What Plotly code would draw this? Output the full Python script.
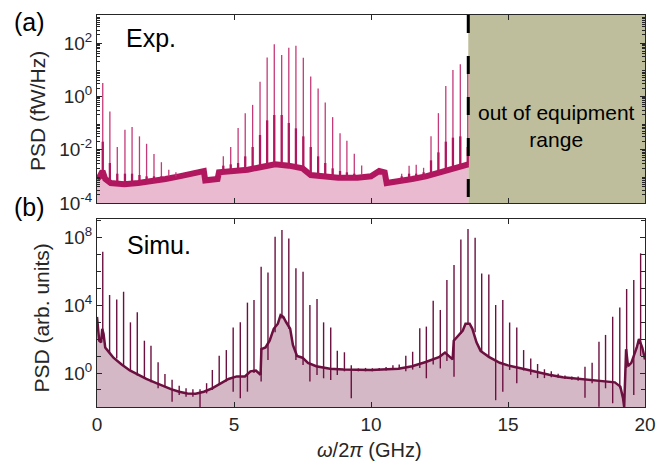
import plotly.graph_objects as go

# ---------------- (a) Experiment: PSD in fW/Hz (values stored as log10) ----------------
exp_base_f = [0.0, 0.1, 0.2, 0.3, 0.5, 1.0, 1.5, 2.0, 2.5, 3.0, 3.5, 3.9, 3.95, 4.2, 4.4, 4.45,
              5.0, 5.5, 6.0, 6.5, 7.0, 7.5, 7.8, 8.2, 8.8, 9.5, 10.0, 10.3, 10.5, 10.57,
              11.0, 11.5, 12.0, 12.5, 13.0, 13.55]
exp_base_log = [-3.1, -3.0, -2.8, -3.1, -3.25, -3.3, -3.25, -3.2, -3.1, -3.0, -2.9, -2.8, -3.15, -3.15, -3.1, -2.85,
                -2.8, -2.75, -2.65, -2.55, -2.6, -2.7, -2.95, -3.0, -3.05, -3.05, -3.0, -2.8, -2.85, -3.25,
                -3.2, -3.1, -3.0, -2.85, -2.7, -2.55]
exp_spike_f = [0.21, 0.47, 0.74, 1.02, 1.28, 1.55, 1.81, 2.08, 2.35, 2.62, 2.88,
               4.61, 4.88, 5.15, 5.41, 5.68, 5.95, 6.21, 6.47, 6.74, 7.0, 7.26, 7.53, 7.8, 8.07, 8.33,
               8.6, 8.87, 9.12, 9.39, 9.66,
               11.12, 11.39, 11.65, 11.92, 12.19, 12.46, 12.73, 12.99, 13.26, 13.53]
exp_spike_top_log = [0.5, -0.57, -1.9, -1.25, -1.15, -1.5, -1.78, -2.16, -2.47, -2.75, -2.85,
                     -2.25, -1.9, -1.19, -0.63, -0.32, 0.55, 1.46, 1.95, 1.55, 1.82, 1.9, 1.45, 0.74, 0.29, -0.23,
                     -0.78, -1.38, -1.67, -2.15, -2.59,
                     -2.9, -2.6, -2.57, -2.68, -1.5, -0.63, 0.39, 0.99, 1.2, 1.26]
exp_spike_mid_log = [-1.7, -2.5, -2.9, -2.9, -2.9, -2.95, -3.0, -3.0, -3.0, -3.0, -3.0,
                     -2.6, -2.55, -2.5, -2.25, -1.9, -1.45, -0.9, -0.7, -0.7, -1.0, -1.2, -1.5, -1.9, -2.25, -2.5,
                     -2.7, -2.8, -2.85, -2.9, -2.95,
                     -3.0, -2.9, -2.9, -2.85, -2.4, -2.1, -1.7, -1.55, -1.5, -1.9]
exp_spike_low_log = [-2.9, -3.2, -3.25, -3.3, -3.3, -3.25, -3.25, -3.2, -3.15, -3.1, -3.05,
                     -2.85, -2.8, -2.8, -2.75, -2.75, -2.7, -2.65, -2.6, -2.6, -2.6, -2.65, -2.7, -2.95, -3.0, -3.0,
                     -3.0, -3.05, -3.05, -3.05, -3.05,
                     -3.2, -3.15, -3.1, -3.05, -3.0, -2.9, -2.8, -2.7, -2.65, -2.6]
exp_limit_f = 13.55

# ---------------- (b) Simulation: PSD in arb. units (values stored as log10) ----------------
sim_base_f = [0.0, 0.08, 0.15, 0.19, 0.24, 0.3, 0.45, 0.6, 0.9, 1.2, 1.5, 1.8, 2.1, 2.4, 2.7, 3.0,
              3.3, 3.6, 3.9, 4.2, 4.5, 4.8, 5.1, 5.4, 5.6, 5.8, 5.97, 6.0, 6.15, 6.3, 6.45, 6.6,
              6.7, 6.8, 6.9, 7.05, 7.15, 7.3, 7.5, 7.7, 8.0, 8.5, 9.0, 10.0, 11.0, 11.5, 12.0,
              12.5, 12.7, 12.85, 12.98, 13.02, 13.2, 13.35, 13.45, 13.6, 13.7, 13.85, 14.0, 14.3,
              14.7, 15.0, 15.5, 16.0, 16.5, 17.0, 17.5, 18.0, 18.5, 18.9, 19.1, 19.2, 19.24,
              19.28, 19.31, 19.38, 19.5, 19.7, 19.78, 19.9, 20.0]
sim_base_log = [3.3, 1.9, 1.8, 2.6, 2.3, 1.5, 1.2, 0.9, 0.5, 0.15, -0.1, -0.35, -0.55, -0.75, -0.95, -1.1,
                -1.2, -1.22, -1.1, -0.9, -0.6, -0.35, -0.2, -0.2, 0.1, 0.15, -0.1, 1.4, 1.5, 1.9, 2.6, 2.9,
                3.4, 3.3, 3.0, 2.6, 1.65, 1.0, 0.9, 0.6, 0.4, 0.25, 0.2, 0.18, 0.25, 0.4, 0.65,
                0.95, 1.2, 1.0, 0.8, 1.9, 2.2, 2.5, 2.9, 2.9, 2.6, 1.8, 1.3, 0.95,
                0.6, 0.45, 0.27, 0.08, -0.1, -0.25, -0.33, -0.4, -0.45, -0.55, -0.8, -1.5, -2.0,
                0.0, 1.4, 0.4, 0.6, 1.5, 2.0, 1.5, 0.8]
sim_spike_f = [0.21, 0.46, 0.72, 0.97, 1.22, 1.47, 1.73, 1.97, 2.23, 2.48, 2.74, 3.0, 3.25, 3.5, 3.76,
               4.0, 4.21, 4.46, 4.72, 4.97, 5.23, 5.49, 5.73, 5.99, 6.24, 6.5, 6.75, 7.0, 7.26, 7.52,
               7.77, 8.03, 8.27, 8.53, 8.77, 9.03, 9.28, 9.54, 9.8, 10.05, 10.3, 10.55, 10.8, 11.03,
               11.27, 11.52, 11.78, 12.02, 12.27, 12.53, 12.77, 13.03, 13.28, 13.54, 13.8, 14.04,
               14.3, 14.55, 14.81, 15.06, 15.32, 15.57, 15.83, 16.08, 16.33, 16.58, 16.83, 17.08,
               17.33, 17.56, 17.81, 18.07, 18.32, 18.56, 18.82, 19.08, 19.33, 19.59, 19.84]
sim_spike_top_log = [7.14, 4.59, 4.33, 4.78, 2.98, 3.57, 1.9, 1.61, 0.63, -0.06, -0.4, -0.75, -0.9, -0.95, -0.95,
                     -0.6, 0.18, 1.02, 1.35, 2.67, 2.98, 4.14, 4.29, 6.25, 5.92, 8.02, 8.41, 7.92, 6.16, 5.96,
                     4.0, 4.35, 2.98, 2.67, 1.31, 1.22, 0.45, 0.27, 0.3, 0.28, 0.3, 0.35, 0.45, 0.5,
                     1.02, 1.25, 2.63, 2.73, 4.25, 3.71, 5.47, 6.35, 7.86, 8.47, 7.96, 5.86,
                     5.8, 4.0, 4.29, 2.97, 2.68, 1.35, 0.86, 0.53, 0.22, 0.1, -0.05, -0.15,
                     -0.2, -0.2, 0.37, 0.61, 1.84, 2.24, 3.31, 3.86, 4.94, 5.47, 7.04]
sim_spike_low_log = [2.0, 1.2, 0.85, 0.45, 0.15, -0.15, -0.3, -0.55, -0.9, -0.8, -1.69, -1.3, -1.4, -1.4, -2.0,
                     -1.2, -1.0, -0.7, -0.5, -1.1, -1.49, -1.1, 0.0, -0.5, 0.76, 2.4, 3.2, 2.6, 0.76, 0.47,
                     -0.5, -0.12, -0.31, -0.41, -0.12, 0.1, -1.49, 0.1, 0.1, 0.1, 0.15, 0.15, 0.2, 0.2,
                     0.1, 0.2, 0.3, -0.31, 0.5, 0.27, 0.7, -0.22, 2.3, 2.9, 2.4, 1.2,
                     0.9, -1.6, -1.1, 0.18, -0.6, 0.15, -0.1, -0.3, -0.3, -0.25, -0.3, -0.35,
                     -0.4, -0.45, -1.45, -0.6, -1.98, -0.9, -1.78, -0.9, 0.3, -1.29, 1.0]

x_tick_vals = [0, 5, 10, 15, 20]
exp_ytick_pow = [-4, -2, 0, 2]
sim_ytick_pow = [0, 4, 8]
exp_yrange = [-4, 3.05]
sim_yrange = [-2, 9.06]

FONT = "Liberation Sans, Arial, Helvetica, sans-serif"
AX = "#262626"
EXP_LINE = "#b0175f"
EXP_SPIKE = "#c43a78"
EXP_FILL = "#e9bad0"
SIM_LINE = "#6c1040"
SIM_FILL = "#d4b8c6"


def lin(vals):
    return [10 ** v for v in vals]


def segments(fs, lo, hi):
    xs, ys = [], []
    for f, a, b in zip(fs, lo, hi):
        xs += [f, f, None]
        ys += [10 ** a, 10 ** b, None]
    return xs, ys


fig = go.Figure()

# ---- panel (a) ----
fig.add_trace(go.Scatter(x=[exp_base_f[0], exp_base_f[-1]], y=[10 ** (exp_yrange[0] - 2)] * 2,
                         mode="lines", line=dict(width=0), xaxis="x", yaxis="y",
                         hoverinfo="skip", showlegend=False))
fig.add_trace(go.Scatter(x=exp_base_f, y=lin(exp_base_log), mode="lines", fill="tonexty",
                         fillcolor=EXP_FILL, line=dict(color=EXP_LINE, width=6),
                         xaxis="x", yaxis="y", showlegend=False))
sx, sy = segments(exp_spike_f, exp_spike_low_log, exp_spike_top_log)
fig.add_trace(go.Scatter(x=sx, y=sy, mode="lines", line=dict(color=EXP_SPIKE, width=1.3),
                         xaxis="x", yaxis="y", showlegend=False))
mx, my = segments(exp_spike_f, exp_spike_low_log, exp_spike_mid_log)
fig.add_trace(go.Scatter(x=mx, y=my, mode="lines", line=dict(color=EXP_LINE, width=2.3),
                         xaxis="x", yaxis="y", showlegend=False))

# ---- panel (b) ----
fig.add_trace(go.Scatter(x=[sim_base_f[0], sim_base_f[-1]], y=[10 ** (sim_yrange[0] - 2)] * 2,
                         mode="lines", line=dict(width=0), xaxis="x2", yaxis="y2",
                         hoverinfo="skip", showlegend=False))
fig.add_trace(go.Scatter(x=sim_base_f, y=lin(sim_base_log), mode="lines", fill="tonexty",
                         fillcolor=SIM_FILL, line=dict(color=SIM_LINE, width=2.5),
                         xaxis="x2", yaxis="y2", showlegend=False))
tx, ty = segments(sim_spike_f, sim_spike_low_log, sim_spike_top_log)
fig.add_trace(go.Scatter(x=tx, y=ty, mode="lines", line=dict(color=SIM_LINE, width=1.4),
                         xaxis="x2", yaxis="y2", showlegend=False))


def sup_labels(pows):
    return ["10<sup>%d</sup>" % p for p in pows]


exp_minor = [m * 10 ** d for d in range(-4, 3) for m in range(2, 10)]

xcommon = dict(range=[0, 20], tickvals=x_tick_vals, ticks="inside", ticklen=5, tickcolor=AX,
               showline=True, linecolor=AX, linewidth=1, mirror="ticks", showgrid=False,
               zeroline=False)
# the page body adds an 8 px offset, so margins are shifted to compensate
fig.update_layout(
    width=670, height=467,
    margin=dict(l=89, r=33, t=7, b=68),
    paper_bgcolor="white", plot_bgcolor="white",
    font=dict(family=FONT, size=19, color=AX),
    xaxis=dict(**xcommon, anchor="y", showticklabels=False),
    xaxis2=dict(**xcommon, anchor="y2", showticklabels=True, tickfont=dict(size=19)),
    yaxis=dict(type="log", range=exp_yrange, domain=[0.5204, 1.0], anchor="x",
               tickvals=[10 ** p for p in exp_ytick_pow], ticktext=sup_labels(exp_ytick_pow),
               ticks="inside", ticklen=5, tickcolor=AX, showline=True, linecolor=AX, linewidth=1,
               mirror="ticks", showgrid=False, zeroline=False, tickfont=dict(size=19),
               minor=dict(tickmode="array", tickvals=exp_minor, ticks="inside", ticklen=3,
                          tickcolor=AX, showgrid=False)),
    yaxis2=dict(type="log", range=sim_yrange, domain=[0.0, 0.4796], anchor="x2",
                tickvals=[10 ** p for p in sim_ytick_pow], ticktext=sup_labels(sim_ytick_pow),
                ticks="inside", ticklen=5, tickcolor=AX, showline=True, linecolor=AX, linewidth=1,
                mirror="ticks", showgrid=False, zeroline=False, tickfont=dict(size=19),
                minor=dict(tickmode="array", tickvals=[10 ** p for p in range(-1, 10)],
                           ticks="inside", ticklen=4, tickcolor=AX, showgrid=False)),
    showlegend=False,
)

# out-of-range region and limit line
fig.add_shape(type="rect", xref="x", yref="y domain", x0=exp_limit_f, x1=20, y0=0, y1=1,
              fillcolor="#bfbe9c", line=dict(width=0), layer="below")
fig.add_shape(type="line", xref="x", yref="y domain", x0=exp_limit_f, x1=exp_limit_f, y0=1, y1=0,
              line=dict(color="black", width=3, dash="18px,23px"))

ann = [
    dict(text="out of equipment<br>range", x=0.8376, y=0.717, size=21, color="black"),
    dict(text="Exp.", x=0.0985, y=0.941, size=25, color="black"),
    dict(text="Simu.", x=0.113, y=0.413, size=25, color="black"),
    dict(text="(a)", x=-0.1223, y=0.982, size=25, color="black"),
    dict(text="(b)", x=-0.1223, y=0.510, size=25, color="black"),
    dict(text="<i>ω</i>/2<i>π</i> (GHz)", x=0.498, y=-0.1097, size=20, color=AX),
]
for a in ann:
    fig.add_annotation(text=a["text"], x=a["x"], y=a["y"], xref="paper", yref="paper",
                       xanchor="center", yanchor="middle", showarrow=False,
                       font=dict(family=FONT, size=a["size"], color=a["color"]))
fig.add_annotation(text="PSD (fW/Hz)", x=-0.1095, y=0.755, xref="paper", yref="paper",
                   textangle=-90, showarrow=False, xanchor="center", yanchor="middle",
                   font=dict(family=FONT, size=21, color=AX))
fig.add_annotation(text="PSD (arb. units)", x=-0.1004, y=0.228, xref="paper", yref="paper",
                   textangle=-90, showarrow=False, xanchor="center", yanchor="middle",
                   font=dict(family=FONT, size=21, color=AX))

fig.write_html("out.html")
